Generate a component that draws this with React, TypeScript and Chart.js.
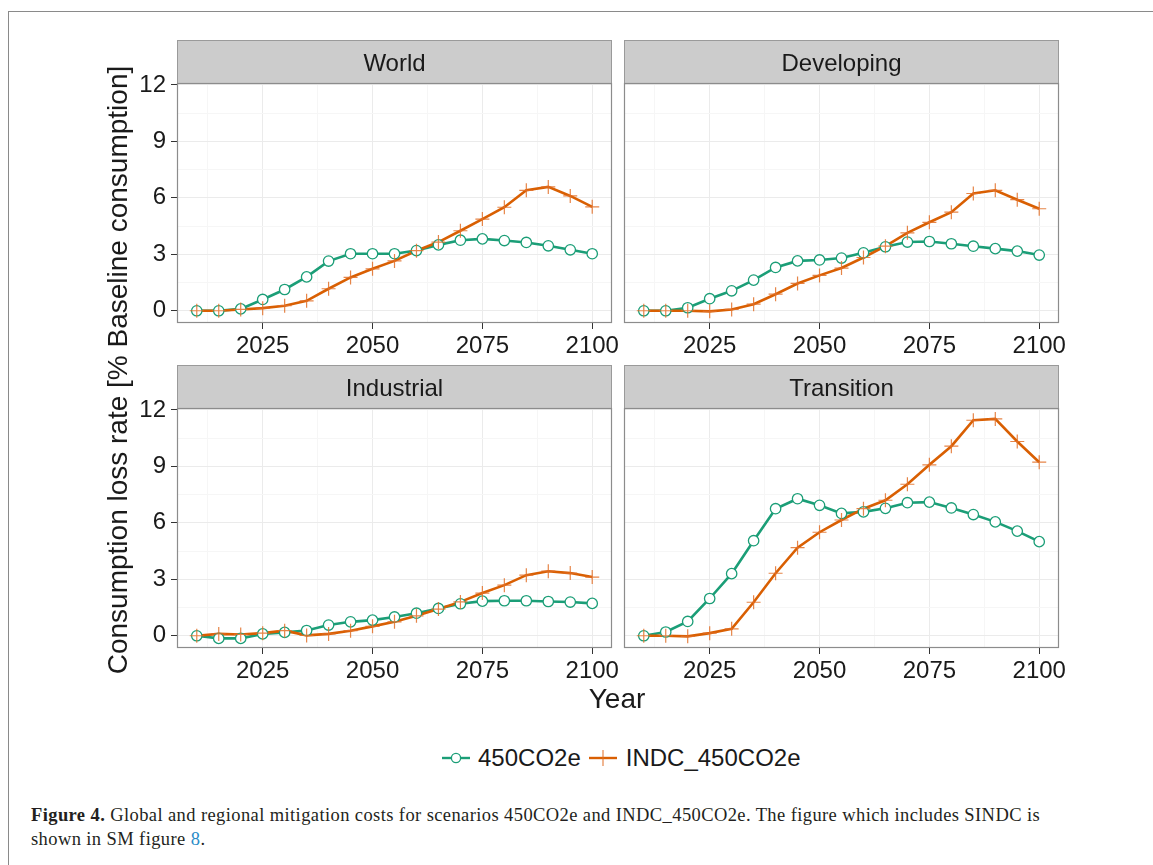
import React, { useEffect, useRef } from "react";
import { Chart, registerables } from "chart.js";

Chart.register(...registerables);

// ---------------- data ----------------
const years = [2010, 2015, 2020, 2025, 2030, 2035, 2040, 2045, 2050, 2055, 2060, 2065, 2070, 2075, 2080, 2085, 2090, 2095, 2100];
const seriesNames = ["450CO2e", "INDC_450CO2e"];
const panelNames = ["World", "Developing", "Industrial", "Transition"];

const world450 = [0, 0, 0.1, 0.6, 1.13, 1.8, 2.64, 3.03, 3.03, 3.03, 3.2, 3.5, 3.75, 3.82, 3.73, 3.63, 3.45, 3.24, 3.03];
const worldIndc = [0, 0, 0.07, 0.14, 0.27, 0.53, 1.17, 1.77, 2.23, 2.65, 3.19, 3.65, 4.25, 4.87, 5.5, 6.4, 6.58, 6.1, 5.52];
const developing450 = [0, 0, 0.16, 0.64, 1.06, 1.63, 2.3, 2.65, 2.7, 2.8, 3.08, 3.4, 3.65, 3.68, 3.56, 3.43, 3.3, 3.17, 2.96];
const developingIndc = [0, 0, 0, -0.03, 0.07, 0.35, 0.88, 1.45, 1.88, 2.27, 2.83, 3.43, 4.14, 4.7, 5.24, 6.23, 6.4, 5.9, 5.42];
const industrial450 = [0, -0.14, -0.14, 0.1, 0.18, 0.28, 0.57, 0.74, 0.83, 1.0, 1.2, 1.45, 1.7, 1.84, 1.86, 1.86, 1.82, 1.79, 1.72];
const industrialIndc = [0, 0.1, 0.07, 0.14, 0.27, 0.02, 0.1, 0.27, 0.5, 0.74, 1.06, 1.42, 1.8, 2.27, 2.69, 3.22, 3.43, 3.33, 3.12];
const transition450 = [0, 0.2, 0.76, 1.98, 3.3, 5.05, 6.75, 7.28, 6.93, 6.5, 6.58, 6.77, 7.07, 7.1, 6.79, 6.44, 6.05, 5.56, 5.0];
const transitionIndc = [0, 0, -0.03, 0.14, 0.37, 1.78, 3.32, 4.68, 5.5, 6.15, 6.75, 7.2, 8.05, 9.08, 10.07, 11.45, 11.52, 10.32, 9.22];

const xTickValues = [2025, 2050, 2075, 2100];
const yTickValues = [0, 3, 6, 9, 12];
const xLimits = [2005.5, 2104.5];
const yLimits = [-0.65, 12.1];

const xTitle = "Year";
const yTitle = "Consumption loss rate [% Baseline consumption]";

// ---------------- style ----------------
const GREEN = "#1B9E77";
const ORANGE = "#D95F02";
const ORANGE_PT = "rgba(226,112,40,0.85)";
const FONT = '"Liberation Sans", Arial, Helvetica, sans-serif';
const TEXT = "#1a1a1a";

const PLOT_W = 435;
const PLOT_H = 240;
const STRIP_H = 43;
const TOP_PAD = 45;
const XAXIS_H = 40;
const PAD_R = 12;

function withMinor(major: number[], lo: number, hi: number): number[] {
  const step = major[1] - major[0];
  const out: number[] = [];
  major.forEach((v) => {
    out.push(v - step / 2);
    out.push(v);
  });
  out.push(major[major.length - 1] + step / 2);
  return out.filter((v) => v >= lo && v <= hi);
}

function stripPlugin(title: string) {
  return {
    id: "strip",
    afterDraw(chart: any) {
      const { ctx, chartArea: ca } = chart;
      const w = ca.right - ca.left;
      const h = ca.bottom - ca.top;
      ctx.save();
      ctx.fillStyle = "#CCCCCC";
      ctx.fillRect(ca.left, ca.top - STRIP_H, w, STRIP_H);
      ctx.strokeStyle = "#9a9a9a";
      ctx.lineWidth = 1;
      ctx.strokeRect(ca.left + 0.5, ca.top - STRIP_H + 0.5, w - 1, STRIP_H);
      ctx.fillStyle = TEXT;
      ctx.font = "24px " + FONT;
      ctx.textAlign = "center";
      ctx.textBaseline = "alphabetic";
      ctx.fillText(title, (ca.left + ca.right) / 2, ca.top - 12.5);
      ctx.strokeStyle = "#8c8c8c";
      ctx.lineWidth = 1.2;
      ctx.strokeRect(ca.left + 0.5, ca.top + 0.5, w - 1, h - 1);
      ctx.restore();
    },
  };
}

type PanelProps = {
  title: string;
  a: number[];
  b: number[];
  showY: boolean;
  left: number;
  top: number;
};

function Panel({ title, a, b, showY, left, top }: PanelProps) {
  const ref = useRef<HTMLCanvasElement>(null);
  const yw = showY ? 57 : 10;
  const W = yw + PLOT_W + PAD_R;
  const H = TOP_PAD + PLOT_H + XAXIS_H;

  useEffect(() => {
    const xs = withMinor(xTickValues, xLimits[0], xLimits[1]);
    const ys = withMinor(yTickValues, yLimits[0], yLimits[1]);
    const pts = (vals: number[]) => years.map((x, i) => ({ x, y: vals[i] }));
    const chart = new Chart(ref.current as HTMLCanvasElement, {
      type: "line",
      data: {
        datasets: [
          {
            label: seriesNames[0],
            data: pts(a),
            borderColor: GREEN,
            borderWidth: 2.6,
            pointRadius: 0,
            tension: 0,
            fill: false,
            order: 3,
          },
          {
            label: seriesNames[1],
            data: pts(b),
            borderColor: ORANGE,
            borderWidth: 2.6,
            pointRadius: 0,
            tension: 0,
            fill: false,
            order: 2,
          },
          {
            label: seriesNames[0] + " points",
            data: pts(a),
            showLine: false,
            pointStyle: "circle",
            pointRadius: 5.2,
            pointBorderWidth: 1.3,
            pointBackgroundColor: "#ffffff",
            pointBorderColor: GREEN,
            borderColor: GREEN,
            order: 1,
          },
          {
            label: seriesNames[1] + " points",
            data: pts(b),
            showLine: false,
            pointStyle: "cross",
            pointRadius: 7,
            pointBorderWidth: 1.2,
            pointBorderColor: ORANGE_PT,
            borderColor: ORANGE_PT,
            order: 0,
          },
        ] as any,
      },
      options: {
        animation: false,
        responsive: false,
        layout: { padding: { top: TOP_PAD, right: PAD_R, left: 0, bottom: 0 } },
        plugins: { legend: { display: false }, tooltip: { enabled: false } },
        scales: {
          x: {
            type: "linear",
            min: xLimits[0],
            max: xLimits[1],
            afterBuildTicks: (s: any) => {
              s.ticks = xs.map((v) => ({ value: v }));
            },
            afterFit: (s: any) => {
              s.height = XAXIS_H;
              s.paddingLeft = 0;
              s.paddingRight = 0;
            },
            border: { display: false },
            grid: {
              color: (c: any) => (xTickValues.includes(c.tick?.value) ? "#EBEBEB" : "#F6F6F6"),
              tickColor: (c: any) => (xTickValues.includes(c.tick?.value) ? "#333333" : "rgba(0,0,0,0)"),
              lineWidth: 1,
              tickLength: 6,
              drawTicks: true,
            },
            ticks: {
              autoSkip: false,
              maxRotation: 0,
              minRotation: 0,
              padding: 3,
              color: TEXT,
              font: { family: FONT, size: 24 },
              callback: (v: any) => (xTickValues.includes(Number(v)) ? String(v) : ""),
            },
          },
          y: {
            type: "linear",
            min: yLimits[0],
            max: yLimits[1],
            afterBuildTicks: (s: any) => {
              s.ticks = ys.map((v) => ({ value: v }));
            },
            afterFit: (s: any) => {
              s.width = yw;
              s.paddingTop = 0;
              s.paddingBottom = 0;
            },
            border: { display: false },
            grid: {
              color: (c: any) => (yTickValues.includes(c.tick?.value) ? "#EBEBEB" : "#F6F6F6"),
              tickColor: (c: any) => (yTickValues.includes(c.tick?.value) ? "#333333" : "rgba(0,0,0,0)"),
              lineWidth: 1,
              tickLength: 6,
              drawTicks: showY,
            },
            ticks: {
              display: showY,
              autoSkip: false,
              padding: 5,
              color: TEXT,
              font: { family: FONT, size: 24 },
              callback: (v: any) => (yTickValues.includes(Number(v)) ? String(v) : ""),
            },
          },
        },
      } as any,
      plugins: [stripPlugin(title)],
    });
    return () => chart.destroy();
  }, []);

  return (
    <canvas
      ref={ref}
      width={W}
      height={H}
      style={{ position: "absolute", left, top, width: W, height: H }}
    />
  );
}

function LegendIcon({ kind }: { kind: "circle" | "cross" }) {
  return (
    <svg width={28} height={24} style={{ display: "block" }}>
      <line x1={0} y1={12} x2={28} y2={12} stroke={kind === "circle" ? GREEN : ORANGE} strokeWidth={2.4} />
      {kind === "circle" ? (
        <circle cx={14} cy={12} r={4.6} fill="#fff" stroke={GREEN} strokeWidth={1.3} />
      ) : (
        <line x1={14} y1={4} x2={14} y2={20} stroke={ORANGE_PT} strokeWidth={1.2} />
      )}
    </svg>
  );
}

export default function App() {
  const data = [
    [world450, worldIndc],
    [developing450, developingIndc],
    [industrial450, industrialIndc],
    [transition450, transitionIndc],
  ];
  const pos = [
    { left: 120, top: 38, showY: true },
    { left: 614, top: 38, showY: false },
    { left: 120, top: 363, showY: true },
    { left: 614, top: 363, showY: false },
  ];
  return (
    <div
      style={{
        position: "absolute",
        left: 0,
        top: 0,
        width: 1153,
        height: 865,
        overflow: "hidden",
        background: "#fff",
        fontFamily: FONT,
      }}
    >
      <div
        style={{
          position: "absolute",
          left: 8,
          top: 11,
          width: 1300,
          height: 1000,
          borderLeft: "1.5px solid #8a8a8a",
          borderTop: "1.5px solid #8a8a8a",
        }}
      />
      {panelNames.map((name, i) => (
        <Panel key={name} title={name} a={data[i][0]} b={data[i][1]} {...pos[i]} />
      ))}
      <div
        style={{
          position: "absolute",
          left: 118 - 400,
          top: 370 - 14,
          width: 800,
          height: 28,
          lineHeight: "28px",
          fontSize: 28,
          textAlign: "center",
          color: TEXT,
          transform: "rotate(-90deg)",
          transformOrigin: "50% 50%",
          whiteSpace: "nowrap",
        }}
      >
        {yTitle}
      </div>
      <div
        style={{
          position: "absolute",
          left: 617 - 100,
          top: 685,
          width: 200,
          lineHeight: "28px",
          fontSize: 28,
          textAlign: "center",
          color: TEXT,
        }}
      >
        {xTitle}
      </div>
      <div
        style={{
          position: "absolute",
          left: 442,
          top: 746,
          display: "flex",
          alignItems: "center",
          fontSize: 24,
          lineHeight: "24px",
          color: TEXT,
          whiteSpace: "nowrap",
        }}
      >
        <LegendIcon kind="circle" />
        <span style={{ marginLeft: 8, marginRight: 8 }}>{seriesNames[0]}</span>
        <LegendIcon kind="cross" />
        <span style={{ marginLeft: 9 }}>{seriesNames[1]}</span>
      </div>
      <div
        style={{
          position: "absolute",
          left: 31,
          top: 803,
          width: 1115,
          fontFamily: '"Liberation Serif", "Times New Roman", serif',
          fontSize: 18.5,
          letterSpacing: 0.4,
          lineHeight: "24px",
          color: "#231f20",
          whiteSpace: "nowrap",
        }}
      >
        <b>Figure 4.</b> Global and regional mitigation costs for scenarios 450CO2e and INDC_450CO2e. The figure which includes SINDC is
        <br />
        shown in SM figure <span style={{ color: "#2a8cc8" }}>8</span>.
      </div>
    </div>
  );
}
